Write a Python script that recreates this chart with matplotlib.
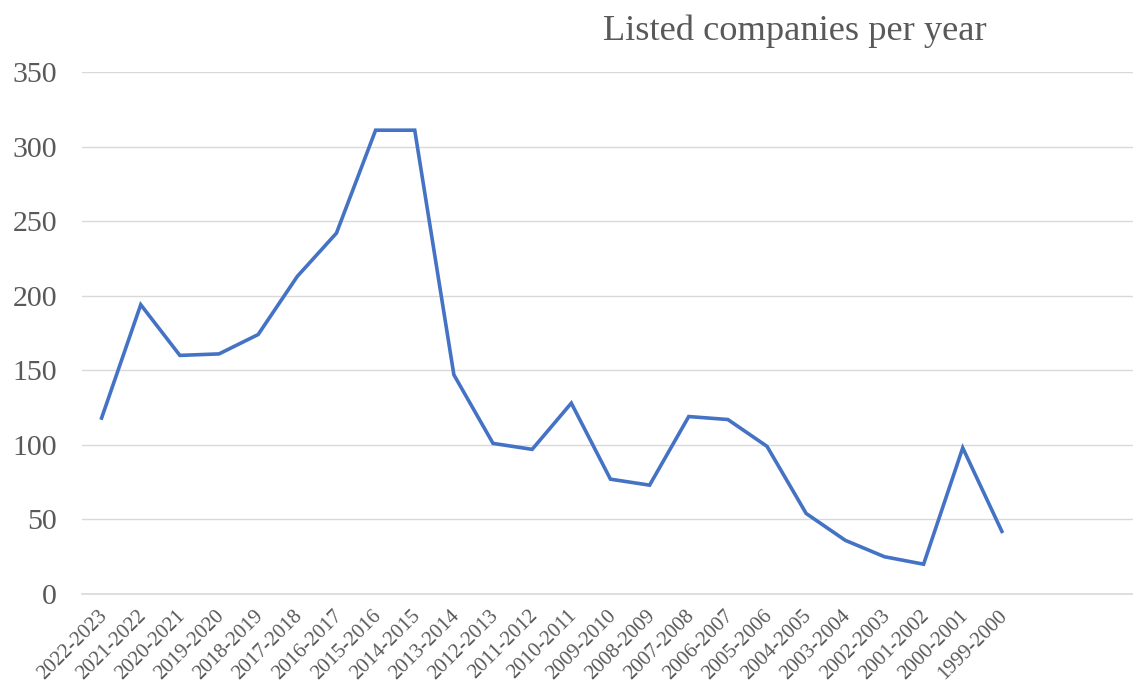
import matplotlib
matplotlib.use('Agg')
import matplotlib.pyplot as plt
import matplotlib.transforms as mtransforms

# Число листингов по годам (от новых к старым)
periods = ['2022-2023', '2021-2022', '2020-2021', '2019-2020', '2018-2019', '2017-2018',
           '2016-2017', '2015-2016', '2014-2015', '2013-2014', '2012-2013', '2011-2012',
           '2010-2011', '2009-2010', '2008-2009', '2007-2008', '2006-2007', '2005-2006',
           '2004-2005', '2003-2004', '2002-2003', '2001-2002', '2000-2001', '1999-2000']
companies = [118, 194, 160, 161, 174, 213, 242, 311, 311, 147, 101, 97,
             128, 77, 73, 119, 117, 99, 54, 36, 25, 20, 98, 42]
yticks = [0, 50, 100, 150, 200, 250, 300, 350]

plt.rcParams['font.family'] = ['Liberation Serif', 'DejaVu Serif']
grey = '#595959'

fig = plt.figure(figsize=(11.33, 6.88), dpi=100)
ax = fig.add_axes([0.0724, 0.1366, 0.9276, 0.7587])

xs = range(len(periods))
ax.plot(xs, companies, color='#4472C4', linewidth=2.6, solid_joinstyle='miter')

ax.set_ylim(0, 350)
ax.set_xlim(-0.5, 26.35)
ax.set_yticks(yticks)
ax.set_yticklabels([str(v) for v in yticks], fontsize=21.5, color=grey)
ax.set_xticks(list(xs))
ax.set_xticklabels(periods, rotation=45, ha='right', va='top', rotation_mode='anchor',
                   fontsize=15, color=grey)
ax.tick_params(axis='both', length=0)
ax.tick_params(axis='y', pad=18)
ax.tick_params(axis='x', pad=9)

# подписи категорий чуть левее, чтобы конец текста приходился на точку
shift = mtransforms.ScaledTranslation(-4 / 100, 0, fig.dpi_scale_trans)
for lbl in ax.get_xticklabels():
    lbl.set_transform(lbl.get_transform() + shift)

ax.grid(axis='y', color='#d9d9d9', linewidth=1)
ax.axhline(0, color='#d9d9d9', linewidth=1.2, clip_on=False, zorder=0)
ax.set_axisbelow(True)
for s in ax.spines.values():
    s.set_visible(False)

fig.text(0.7015, 0.955, 'Listed companies per year', ha='center', va='center',
         fontsize=26.2, color=grey)

fig.savefig('out.png', dpi=100)
